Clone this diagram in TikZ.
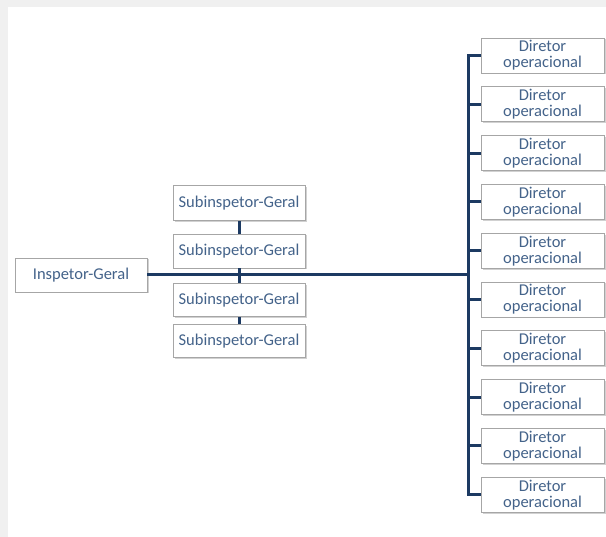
\documentclass[tikz,border=0pt]{standalone}
\usepackage{fontspec}
\setmainfont{Carlito}
\usepackage{tikz}
\usetikzlibrary{positioning,shadows}
\usepackage{xcolor}
\definecolor{PageGray}{HTML}{F0F0F0}
\definecolor{LineNavy}{HTML}{1C3A62}
\definecolor{TextBlue}{HTML}{44638A}
\definecolor{BoxEdge}{HTML}{A6A6A6}

\begin{document}
\begin{tikzpicture}[x=1pt,y=-1pt,
    every node/.style={font=\fontsize{16.5}{16}\selectfont,text=TextBlue},
    orgbox/.style={rectangle,draw=BoxEdge,fill=white,line width=0.8pt,
                   align=center,inner sep=0pt,
                   drop shadow={shadow xshift=1.5pt,shadow yshift=-1.5pt,
                                fill=black,opacity=0.18}},
    orgline/.style={draw=LineNavy,line width=3pt}]
  % page
  \fill[PageGray] (0,0) rectangle (606,537);
  \fill[white] (8,7) rectangle (606,537);
  \useasboundingbox (0,0) rectangle (606,537);

  % top of the chart
  \node[orgbox,minimum width=132pt,minimum height=34pt] (ig) at (81,275)
    {Inspetor-Geral};

  % subinspectors
  \node[orgbox,minimum width=132pt,minimum height=35pt] (sub1) at (239,203)
    {Subinspetor-Geral};
  \node[orgbox,minimum width=132pt,minimum height=34pt] (sub2) at (239,251)
    {Subinspetor-Geral};
  \node[orgbox,minimum width=132pt,minimum height=33pt] (sub3) at (239,300)
    {Subinspetor-Geral};
  \node[orgbox,minimum width=132pt,minimum height=33pt] (sub4) at (239,341)
    {Subinspetor-Geral};

  % directors
  \foreach \i in {1,...,10}{
    \node[orgbox,minimum width=123pt,minimum height=35pt] (dir\i)
      at (542.5,{55.5+48.8*(\i-1)}) {Diretor\\operacional};
  }
  \coordinate (busmid) at (468,275);
  \coordinate (bustop) at (dir1.west -| busmid);
  \coordinate (busbot) at (dir10.west -| busmid);

  % connectors
  \draw[orgline] (sub1.south) -- (sub2.north);
  \draw[orgline] (sub2.south) -- (sub3.north);
  \draw[orgline] (sub3.south) -- (sub4.north);
  \draw[orgline] (ig.east) -- (busmid);
  \draw[orgline,line cap=rect] (bustop) -- (busbot);
  \foreach \i in {1,...,10}{
    \draw[orgline] (dir\i.west -| busmid) -- (dir\i.west);
  }
\end{tikzpicture}
\end{document}
